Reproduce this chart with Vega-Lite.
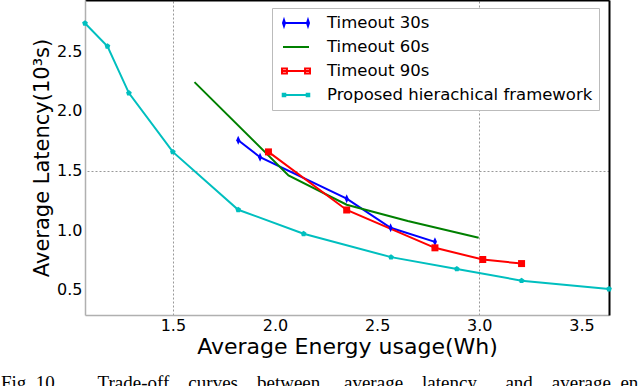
{
  "$schema": "https://vega.github.io/schema/vega-lite/v6.json",
  "width": 524,
  "height": 315,
  "autosize": {"type": "none"},
  "padding": {"left": 85, "top": 0, "right": 31, "bottom": 71},
  "background": "white",
  "config": {"view": {"stroke": null}, "font": "DejaVu Sans"},
  "title": {
    "text": "Fig.\u00a010.\u00a0\u00a0\u00a0\u00a0\u00a0\u00a0\u00a0\u00a0Trade-off\u00a0\u00a0\u00a0\u00a0curves\u00a0\u00a0\u00a0\u00a0between\u00a0\u00a0\u00a0\u00a0\u00a0average\u00a0\u00a0\u00a0\u00a0latency\u00a0\u00a0\u00a0\u00a0\u00a0\u00a0and\u00a0\u00a0\u00a0\u00a0average\u00a0\u00a0en",
    "orient": "bottom",
    "anchor": "start",
    "frame": "group",
    "font": "Liberation Serif",
    "fontSize": 19,
    "fontWeight": "normal",
    "color": "black",
    "baseline": "top",
    "offset": 17,
    "dx": -84
  },
  "data": {
    "values": [
      {"series": "Timeout 30s", "x": 1.82, "y": 1.755},
      {"series": "Timeout 30s", "x": 1.927, "y": 1.612},
      {"series": "Timeout 30s", "x": 2.351, "y": 1.265},
      {"series": "Timeout 30s", "x": 2.566, "y": 1.021},
      {"series": "Timeout 30s", "x": 2.783, "y": 0.903},
      {"series": "Timeout 60s", "x": 1.606, "y": 2.242},
      {"series": "Timeout 60s", "x": 2.066, "y": 1.46},
      {"series": "Timeout 60s", "x": 2.351, "y": 1.214},
      {"series": "Timeout 60s", "x": 2.65, "y": 1.078},
      {"series": "Timeout 60s", "x": 2.997, "y": 0.938},
      {"series": "Timeout 90s", "x": 1.968, "y": 1.657},
      {"series": "Timeout 90s", "x": 2.351, "y": 1.17},
      {"series": "Timeout 90s", "x": 2.783, "y": 0.853},
      {"series": "Timeout 90s", "x": 3.017, "y": 0.755},
      {"series": "Timeout 90s", "x": 3.207, "y": 0.721},
      {"series": "Proposed hierachical framework", "x": 1.07, "y": 2.735},
      {"series": "Proposed hierachical framework", "x": 1.18, "y": 2.542},
      {"series": "Proposed hierachical framework", "x": 1.285, "y": 2.15},
      {"series": "Proposed hierachical framework", "x": 1.5, "y": 1.657},
      {"series": "Proposed hierachical framework", "x": 1.82, "y": 1.172},
      {"series": "Proposed hierachical framework", "x": 2.14, "y": 0.971},
      {"series": "Proposed hierachical framework", "x": 2.568, "y": 0.775},
      {"series": "Proposed hierachical framework", "x": 2.89, "y": 0.676},
      {"series": "Proposed hierachical framework", "x": 3.207, "y": 0.578},
      {"series": "Proposed hierachical framework", "x": 3.635, "y": 0.508}
    ]
  },
  "layer": [
    {
      "mark": {"type": "line", "strokeWidth": 2},
      "encoding": {
        "x": {
          "field": "x", "type": "quantitative",
          "scale": {"domain": [1.07, 3.635], "nice": false, "zero": false},
          "axis": {
            "title": "Average Energy usage(Wh)",
            "values": [1.5, 2.0, 2.5, 3.0, 3.5],
            "format": ".1f",
            "grid": false, "ticks": false, "tickSize": 0,
            "labelPadding": 2, "labelFontSize": 16, "labelColor": "black", "labelFont": "DejaVu Sans",
            "labelFlush": false,
            "domainColor": "#b0b0b0", "domainWidth": 1.5,
            "titleFontSize": 22, "titleFontWeight": "normal", "titleColor": "black", "titleFont": "DejaVu Sans",
            "titlePadding": 3
          }
        },
        "y": {
          "field": "y", "type": "quantitative",
          "scale": {"domain": [0.29, 2.93], "nice": false, "zero": false},
          "axis": {
            "title": "Average Latency(10³s)",
            "values": [0.5, 1.0, 1.5, 2.0, 2.5],
            "format": ".1f",
            "grid": false, "ticks": false, "tickSize": 0,
            "labelPadding": 3, "labelFontSize": 16, "labelColor": "black", "labelFont": "DejaVu Sans",
            "labelFlush": false,
            "domainColor": "#b0b0b0", "domainWidth": 1.5,
            "titleFontSize": 21, "titleFontWeight": "normal", "titleColor": "black", "titleFont": "DejaVu Sans",
            "titlePadding": 4
          }
        },
        "color": {
          "field": "series", "type": "nominal",
          "scale": {
            "domain": ["Proposed hierachical framework", "Timeout 30s", "Timeout 60s", "Timeout 90s"],
            "range": ["#00bfbf", "#0000ff", "#008000", "#ff0000"]
          },
          "legend": null
        }
      }
    },
    {
      "transform": [{"filter": "datum.series == 'Timeout 30s'"}],
      "mark": {"type": "point", "filled": true, "opacity": 1, "size": 81, "shape": "M0,-1L0.45,0L0,1L-0.45,0Z"},
      "encoding": {
        "x": {"field": "x", "type": "quantitative", "axis": null},
        "y": {"field": "y", "type": "quantitative", "axis": null},
        "color": {"field": "series", "type": "nominal", "legend": null}
      }
    },
    {
      "transform": [{"filter": "datum.series == 'Timeout 90s'"}],
      "mark": {"type": "point", "filled": true, "opacity": 1, "size": 49, "shape": "square"},
      "encoding": {
        "x": {"field": "x", "type": "quantitative", "axis": null},
        "y": {"field": "y", "type": "quantitative", "axis": null},
        "color": {"field": "series", "type": "nominal", "legend": null}
      }
    },
    {
      "transform": [{"filter": "datum.series == 'Proposed hierachical framework'"}],
      "mark": {"type": "point", "filled": true, "opacity": 1, "size": 36, "shape": "M0,-1L0.95,-0.31L0.59,0.81L-0.59,0.81L-0.95,-0.31Z"},
      "encoding": {
        "x": {"field": "x", "type": "quantitative", "axis": null},
        "y": {"field": "y", "type": "quantitative", "axis": null},
        "color": {"field": "series", "type": "nominal", "legend": null}
      }
    },
    {
      "transform": [{"filter": "datum.x > 100"}],
      "mark": {"type": "point", "filled": false, "strokeWidth": 2},
      "encoding": {
        "x": {
          "field": "x", "type": "quantitative",
          "axis": {
            "orient": "top", "title": null, "values": [1.5, 3.0],
            "labels": false, "ticks": false, "grid": true,
            "gridColor": "#999999", "gridDash": [2, 2], "gridWidth": 1, "gridOpacity": 1,
            "domainColor": "black", "domainWidth": 2
          }
        },
        "y": {
          "field": "y", "type": "quantitative",
          "axis": {
            "orient": "right", "title": null, "values": [1.5],
            "labels": false, "ticks": false, "grid": true,
            "gridColor": "#999999", "gridDash": [2, 2], "gridWidth": 1, "gridOpacity": 1,
            "domainColor": "black", "domainWidth": 2
          }
        },
        "stroke": {
          "field": "series", "type": "nominal",
          "scale": {
            "domain": ["Timeout 30s", "Timeout 60s", "Timeout 90s", "Proposed hierachical framework"],
            "range": ["#0000ff", "#008000", "#ff0000", "#00bfbf"]
          },
          "legend": {
            "title": null, "orient": "none", "legendX": 187, "legendY": 8,
            "symbolSize": 256, "symbolStrokeWidth": 2, "symbolOpacity": 1,
            "padding": 6, "rowPadding": 6, "symbolOffset": 9, "labelOffset": 22,
            "labelFontSize": 16.5, "labelFont": "DejaVu Sans", "labelColor": "black", "labelLimit": 400,
            "strokeColor": "#bbbbbb", "fillColor": "white", "cornerRadius": 0
          }
        },
        "shape": {
          "field": "series", "type": "nominal",
          "scale": {
            "domain": ["Timeout 30s", "Timeout 60s", "Timeout 90s", "Proposed hierachical framework"],
            "range": [
              "M-1.625,0L1.625,0M-1.5,-0.375L-1.375,0L-1.5,0.375L-1.625,0ZM1.5,-0.375L1.625,0L1.5,0.375L1.375,0Z",
              "M-1.625,0L1.625,0",
              "M-1.625,0L1.625,0M-1.75,-0.31H-1.13V0.31H-1.75ZM1.13,-0.31H1.75V0.31H1.13Z",
              "M-1.625,0L1.625,0M-1.66,-0.16H-1.34V0.16H-1.66ZM1.34,-0.16H1.66V0.16H1.34Z"
            ]
          },
          "legend": {
            "title": null, "orient": "none", "legendX": 187, "legendY": 8,
            "symbolSize": 256, "symbolStrokeWidth": 2, "symbolOpacity": 1,
            "padding": 6, "rowPadding": 6, "symbolOffset": 9, "labelOffset": 22,
            "labelFontSize": 16.5, "labelFont": "DejaVu Sans", "labelColor": "black", "labelLimit": 400,
            "strokeColor": "#bbbbbb", "fillColor": "white", "cornerRadius": 0
          }
        }
      }
    }
  ],
  "resolve": {"axis": {"x": "independent", "y": "independent"}}
}
